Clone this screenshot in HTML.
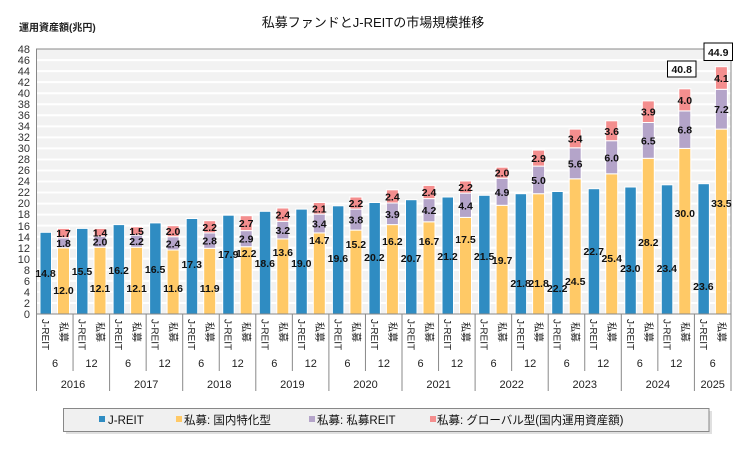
<!DOCTYPE html>
<html><head><meta charset="utf-8"><style>
html,body{margin:0;padding:0;background:#fff;}
svg{display:block;font-family:"Liberation Sans","Noto Sans CJK JP",sans-serif;}
.v{font-size:10.5px;font-weight:bold;fill:#111;text-anchor:middle;}
.t{font-size:11px;fill:#333;text-anchor:end;}
.c{font-size:10px;fill:#222;}
.m{font-size:11px;fill:#222;text-anchor:middle;}
.j{fill:#2f8cc2;stroke:#fff;stroke-width:1}
.d{fill:#ffc966;stroke:#fff;stroke-width:1}
.r{fill:#b4a4c9;stroke:#fff;stroke-width:1}
.g{fill:#f48e8e;stroke:#fff;stroke-width:1}
</style></head><body>
<svg width="748" height="454" viewBox="0 0 748 454">
<text x="373" y="27" font-size="13" text-anchor="middle" fill="#111">私募ファンドとJ-REITの市場規模推移</text>
<text x="19" y="31" font-size="10" font-weight="bold" fill="#222">運用資産額(兆円)</text>
<rect x="36.5" y="49" width="694.5" height="265" fill="#f2f2f2"/>
<g stroke="#fff" stroke-width="2">
<line x1="36.5" x2="731" y1="302.96" y2="302.96"/><line x1="36.5" x2="731" y1="291.92" y2="291.92"/><line x1="36.5" x2="731" y1="280.88" y2="280.88"/><line x1="36.5" x2="731" y1="269.84" y2="269.84"/><line x1="36.5" x2="731" y1="258.8" y2="258.8"/><line x1="36.5" x2="731" y1="247.76" y2="247.76"/><line x1="36.5" x2="731" y1="236.72" y2="236.72"/><line x1="36.5" x2="731" y1="225.68" y2="225.68"/><line x1="36.5" x2="731" y1="214.64" y2="214.64"/><line x1="36.5" x2="731" y1="203.6" y2="203.6"/><line x1="36.5" x2="731" y1="192.56" y2="192.56"/><line x1="36.5" x2="731" y1="181.52" y2="181.52"/><line x1="36.5" x2="731" y1="170.48" y2="170.48"/><line x1="36.5" x2="731" y1="159.44" y2="159.44"/><line x1="36.5" x2="731" y1="148.4" y2="148.4"/><line x1="36.5" x2="731" y1="137.36" y2="137.36"/><line x1="36.5" x2="731" y1="126.32" y2="126.32"/><line x1="36.5" x2="731" y1="115.28" y2="115.28"/><line x1="36.5" x2="731" y1="104.24" y2="104.24"/><line x1="36.5" x2="731" y1="93.2" y2="93.2"/><line x1="36.5" x2="731" y1="82.16" y2="82.16"/><line x1="36.5" x2="731" y1="71.12" y2="71.12"/><line x1="36.5" x2="731" y1="60.08" y2="60.08"/>
</g>
<g>
<text class="t" x="30" y="318">0</text><text class="t" x="30" y="307">2</text><text class="t" x="30" y="296">4</text><text class="t" x="30" y="285">6</text><text class="t" x="30" y="274">8</text><text class="t" x="30" y="263">10</text><text class="t" x="30" y="252">12</text><text class="t" x="30" y="241">14</text><text class="t" x="30" y="230">16</text><text class="t" x="30" y="218">18</text><text class="t" x="30" y="207">20</text><text class="t" x="30" y="196">22</text><text class="t" x="30" y="185">24</text><text class="t" x="30" y="174">26</text><text class="t" x="30" y="163">28</text><text class="t" x="30" y="152">30</text><text class="t" x="30" y="141">32</text><text class="t" x="30" y="130">34</text><text class="t" x="30" y="119">36</text><text class="t" x="30" y="108">38</text><text class="t" x="30" y="97">40</text><text class="t" x="30" y="86">42</text><text class="t" x="30" y="75">44</text><text class="t" x="30" y="64">46</text><text class="t" x="30" y="53">48</text>
</g>
<!-- J-REIT bars -->
<g>
<rect class="j" x="40" y="232.3" width="11.5" height="81.7"/>
<rect class="j" x="76.5" y="228.4" width="11.5" height="85.6"/>
<rect class="j" x="113.1" y="224.6" width="11.5" height="89.4"/>
<rect class="j" x="149.6" y="222.9" width="11.5" height="91.1"/>
<rect class="j" x="186.2" y="218.5" width="11.5" height="95.5"/>
<rect class="j" x="222.7" y="215.2" width="11.5" height="98.8"/>
<rect class="j" x="259.3" y="211.3" width="11.5" height="102.7"/>
<rect class="j" x="295.8" y="209.1" width="11.5" height="104.9"/>
<rect class="j" x="332.4" y="205.8" width="11.5" height="108.2"/>
<rect class="j" x="368.9" y="202.5" width="11.5" height="111.5"/>
<rect class="j" x="405.5" y="199.7" width="11.5" height="114.3"/>
<rect class="j" x="442" y="197" width="11.5" height="117"/>
<rect class="j" x="478.6" y="195.3" width="11.5" height="118.7"/>
<rect class="j" x="515.1" y="193.7" width="11.5" height="120.3"/>
<rect class="j" x="551.7" y="191.5" width="11.5" height="122.5"/>
<rect class="j" x="588.2" y="188.7" width="11.5" height="125.3"/>
<rect class="j" x="624.8" y="187" width="11.5" height="127"/>
<rect class="j" x="661.3" y="184.8" width="11.5" height="129.2"/>
<rect class="j" x="697.9" y="183.7" width="11.5" height="130.3"/>
</g>
<!-- private stacks -->
<g>
<rect class="d" x="57.5" y="247.8" width="12" height="66.2"/><rect class="r" x="57.5" y="237.8" width="12" height="10"/><rect class="g" x="57.5" y="228.4" width="12" height="9.4"/>
<rect class="d" x="94" y="247.2" width="12" height="66.8"/><rect class="r" x="94" y="236.2" width="12" height="11"/><rect class="g" x="94" y="228.4" width="12" height="7.8"/>
<rect class="d" x="130.6" y="247.2" width="12" height="66.8"/><rect class="r" x="130.6" y="235.1" width="12" height="12.1"/><rect class="g" x="130.6" y="226.8" width="12" height="8.3"/>
<rect class="d" x="167.1" y="250" width="12" height="64"/><rect class="r" x="167.1" y="236.7" width="12" height="13.3"/><rect class="g" x="167.1" y="225.7" width="12" height="11"/>
<rect class="d" x="203.7" y="248.3" width="12" height="65.7"/><rect class="r" x="203.7" y="232.9" width="12" height="15.4"/><rect class="g" x="203.7" y="220.7" width="12" height="12.2"/>
<rect class="d" x="240.2" y="246.7" width="12" height="67.3"/><rect class="r" x="240.2" y="230.6" width="12" height="16.1"/><rect class="g" x="240.2" y="215.7" width="12" height="14.9"/>
<rect class="d" x="276.8" y="238.9" width="12" height="75.1"/><rect class="r" x="276.8" y="221.3" width="12" height="17.6"/><rect class="g" x="276.8" y="208" width="12" height="13.3"/>
<rect class="d" x="313.3" y="232.9" width="12" height="81.1"/><rect class="r" x="313.3" y="214.1" width="12" height="18.8"/><rect class="g" x="313.3" y="202.5" width="12" height="11.6"/>
<rect class="d" x="349.9" y="230.1" width="12" height="83.9"/><rect class="r" x="349.9" y="209.1" width="12" height="21"/><rect class="g" x="349.9" y="197" width="12" height="12.1"/>
<rect class="d" x="386.4" y="224.6" width="12" height="89.4"/><rect class="r" x="386.4" y="203" width="12" height="21.6"/><rect class="g" x="386.4" y="189.8" width="12" height="13.2"/>
<rect class="d" x="423" y="221.8" width="12" height="92.2"/><rect class="r" x="423" y="198.6" width="12" height="23.2"/><rect class="g" x="423" y="185.4" width="12" height="13.2"/>
<rect class="d" x="459.5" y="217.4" width="12" height="96.6"/><rect class="r" x="459.5" y="193.1" width="12" height="24.3"/><rect class="g" x="459.5" y="181" width="12" height="12.1"/>
<rect class="d" x="496.1" y="205.3" width="12" height="108.7"/><rect class="r" x="496.1" y="178.2" width="12" height="27.1"/><rect class="g" x="496.1" y="167.2" width="12" height="11"/>
<rect class="d" x="532.6" y="193.7" width="12" height="120.3"/><rect class="r" x="532.6" y="166.1" width="12" height="27.6"/><rect class="g" x="532.6" y="150.1" width="12" height="16"/>
<rect class="d" x="569.2" y="178.8" width="12" height="135.2"/><rect class="r" x="569.2" y="147.8" width="12" height="31"/><rect class="g" x="569.2" y="129.1" width="12" height="18.7"/>
<rect class="d" x="605.7" y="173.8" width="12" height="140.2"/><rect class="r" x="605.7" y="140.7" width="12" height="33.1"/><rect class="g" x="605.7" y="120.8" width="12" height="19.9"/>
<rect class="d" x="642.3" y="158.3" width="12" height="155.7"/><rect class="r" x="642.3" y="122.5" width="12" height="35.8"/><rect class="g" x="642.3" y="100.9" width="12" height="21.6"/>
<rect class="d" x="678.8" y="148.4" width="12" height="165.6"/><rect class="r" x="678.8" y="110.9" width="12" height="37.5"/><rect class="g" x="678.8" y="88.8" width="12" height="22.1"/>
<rect class="d" x="715.4" y="129.1" width="12" height="184.9"/><rect class="r" x="715.4" y="89.3" width="12" height="39.8"/><rect class="g" x="715.4" y="66.7" width="12" height="22.6"/>
</g>
<!-- plot border -->
<rect x="36.5" y="49" width="694.5" height="265" fill="none" stroke="#888" stroke-width="1"/>
<!-- value labels -->
<g>
<text class="v" x="45.5" y="277">14.8</text><text class="v" x="82" y="275">15.5</text><text class="v" x="118.6" y="274">16.2</text><text class="v" x="155.1" y="273">16.5</text><text class="v" x="191.7" y="268">17.3</text><text class="v" x="228.2" y="258">17.9</text><text class="v" x="264.8" y="267">18.6</text><text class="v" x="301.3" y="267">19.0</text><text class="v" x="337.9" y="262">19.6</text><text class="v" x="374.4" y="261">20.2</text><text class="v" x="411" y="262">20.7</text><text class="v" x="447.5" y="260">21.2</text><text class="v" x="484.1" y="260">21.5</text><text class="v" x="520.6" y="287">21.8</text><text class="v" x="557.2" y="292">22.2</text><text class="v" x="593.7" y="255">22.7</text><text class="v" x="630.3" y="272">23.0</text><text class="v" x="666.8" y="272">23.4</text><text class="v" x="703.4" y="290">23.6</text>

<text class="v" x="63.5" y="294">12.0</text><text class="v" x="100" y="292">12.1</text><text class="v" x="136.6" y="292">12.1</text><text class="v" x="173.1" y="292">11.6</text><text class="v" x="209.7" y="292">11.9</text><text class="v" x="246.2" y="257">12.2</text><text class="v" x="282.8" y="256">13.6</text><text class="v" x="319.3" y="244">14.7</text><text class="v" x="355.9" y="248">15.2</text><text class="v" x="392.4" y="245">16.2</text><text class="v" x="429" y="245">16.7</text><text class="v" x="465.5" y="243">17.5</text><text class="v" x="502.1" y="264">19.7</text><text class="v" x="538.6" y="287">21.8</text><text class="v" x="575.2" y="285">24.5</text><text class="v" x="611.7" y="262">25.4</text><text class="v" x="648.3" y="246">28.2</text><text class="v" x="684.8" y="217">30.0</text><text class="v" x="721.4" y="207">33.5</text>

<text class="v" x="63.5" y="246.8">1.8</text><text class="v" x="100" y="245.7">2.0</text><text class="v" x="136.6" y="245.2">2.2</text><text class="v" x="173.1" y="247.4">2.4</text><text class="v" x="209.7" y="244.6">2.8</text><text class="v" x="246.2" y="242.7">2.9</text><text class="v" x="282.8" y="234.1">3.2</text><text class="v" x="319.3" y="227.5">3.4</text><text class="v" x="355.9" y="223.6">3.8</text><text class="v" x="392.4" y="217.8">3.9</text><text class="v" x="429" y="214.2">4.2</text><text class="v" x="465.5" y="209.3">4.4</text><text class="v" x="502.1" y="195.8">4.9</text><text class="v" x="538.6" y="183.9">5.0</text><text class="v" x="575.2" y="167.3">5.6</text><text class="v" x="611.7" y="161.3">6.0</text><text class="v" x="648.3" y="144.4">6.5</text><text class="v" x="684.8" y="133.7">6.8</text><text class="v" x="721.4" y="113.2">7.2</text>

<text class="v" x="63.5" y="237.1">1.7</text><text class="v" x="100" y="236.3">1.4</text><text class="v" x="136.6" y="235">1.5</text><text class="v" x="173.1" y="235.2">2.0</text><text class="v" x="209.7" y="230.8">2.2</text><text class="v" x="246.2" y="227.2">2.7</text><text class="v" x="282.8" y="218.7">2.4</text><text class="v" x="319.3" y="212.3">2.1</text><text class="v" x="355.9" y="207.1">2.2</text><text class="v" x="392.4" y="200.4">2.4</text><text class="v" x="429" y="196">2.4</text><text class="v" x="465.5" y="191.1">2.2</text><text class="v" x="502.1" y="176.7">2.0</text><text class="v" x="538.6" y="162.1">2.9</text><text class="v" x="575.2" y="142.5">3.4</text><text class="v" x="611.7" y="134.8">3.6</text><text class="v" x="648.3" y="115.7">3.9</text><text class="v" x="684.8" y="103.9">4.0</text><text class="v" x="721.4" y="82">4.1</text>
</g>
<rect x="667.5" y="61" width="28.5" height="16" fill="#fff" stroke="#000" stroke-width="1"/>
<text class="v" x="681.7" y="73">40.8</text>
<rect x="704" y="43" width="28.5" height="17.5" fill="#fff" stroke="#000" stroke-width="1"/>
<text class="v" x="718.2" y="56">44.9</text>
<!-- category axis -->
<g stroke="#888" stroke-width="1">
<line x1="36.5" y1="314" x2="36.5" y2="391"/><line x1="731" y1="314" x2="731" y2="391"/>
<line x1="73.05" y1="314" x2="73.05" y2="371"/><line x1="146.15" y1="314" x2="146.15" y2="371"/><line x1="219.25" y1="314" x2="219.25" y2="371"/><line x1="292.35" y1="314" x2="292.35" y2="371"/><line x1="365.45" y1="314" x2="365.45" y2="371"/><line x1="438.55" y1="314" x2="438.55" y2="371"/><line x1="511.65" y1="314" x2="511.65" y2="371"/><line x1="584.75" y1="314" x2="584.75" y2="371"/><line x1="657.85" y1="314" x2="657.85" y2="371"/>
<line x1="109.6" y1="314" x2="109.6" y2="391"/><line x1="182.7" y1="314" x2="182.7" y2="391"/><line x1="255.8" y1="314" x2="255.8" y2="391"/><line x1="328.9" y1="314" x2="328.9" y2="391"/><line x1="402" y1="314" x2="402" y2="391"/><line x1="475.1" y1="314" x2="475.1" y2="391"/><line x1="548.2" y1="314" x2="548.2" y2="391"/><line x1="621.3" y1="314" x2="621.3" y2="391"/><line x1="694.4" y1="314" x2="694.4" y2="391"/>
</g>
<g class="c">
<text transform="translate(42,319) rotate(90)">J-REIT</text><text transform="translate(60,322) rotate(90)">私募</text>
<text transform="translate(78.5,319) rotate(90)">J-REIT</text><text transform="translate(96.5,322) rotate(90)">私募</text>
<text transform="translate(115.1,319) rotate(90)">J-REIT</text><text transform="translate(133.1,322) rotate(90)">私募</text>
<text transform="translate(151.6,319) rotate(90)">J-REIT</text><text transform="translate(169.6,322) rotate(90)">私募</text>
<text transform="translate(188.2,319) rotate(90)">J-REIT</text><text transform="translate(206.2,322) rotate(90)">私募</text>
<text transform="translate(224.7,319) rotate(90)">J-REIT</text><text transform="translate(242.7,322) rotate(90)">私募</text>
<text transform="translate(261.3,319) rotate(90)">J-REIT</text><text transform="translate(279.3,322) rotate(90)">私募</text>
<text transform="translate(297.8,319) rotate(90)">J-REIT</text><text transform="translate(315.8,322) rotate(90)">私募</text>
<text transform="translate(334.4,319) rotate(90)">J-REIT</text><text transform="translate(352.4,322) rotate(90)">私募</text>
<text transform="translate(370.9,319) rotate(90)">J-REIT</text><text transform="translate(388.9,322) rotate(90)">私募</text>
<text transform="translate(407.5,319) rotate(90)">J-REIT</text><text transform="translate(425.5,322) rotate(90)">私募</text>
<text transform="translate(444,319) rotate(90)">J-REIT</text><text transform="translate(462,322) rotate(90)">私募</text>
<text transform="translate(480.6,319) rotate(90)">J-REIT</text><text transform="translate(498.6,322) rotate(90)">私募</text>
<text transform="translate(517.1,319) rotate(90)">J-REIT</text><text transform="translate(535.1,322) rotate(90)">私募</text>
<text transform="translate(553.7,319) rotate(90)">J-REIT</text><text transform="translate(571.7,322) rotate(90)">私募</text>
<text transform="translate(590.2,319) rotate(90)">J-REIT</text><text transform="translate(608.2,322) rotate(90)">私募</text>
<text transform="translate(626.8,319) rotate(90)">J-REIT</text><text transform="translate(644.8,322) rotate(90)">私募</text>
<text transform="translate(663.3,319) rotate(90)">J-REIT</text><text transform="translate(681.3,322) rotate(90)">私募</text>
<text transform="translate(699.9,319) rotate(90)">J-REIT</text><text transform="translate(717.9,322) rotate(90)">私募</text>
</g>
<g class="m">
<text x="55" y="367">6</text><text x="91.5" y="367">12</text><text x="128" y="367">6</text><text x="164.6" y="367">12</text><text x="201.2" y="367">6</text><text x="237.7" y="367">12</text><text x="274.3" y="367">6</text><text x="310.8" y="367">12</text><text x="347.4" y="367">6</text><text x="383.9" y="367">12</text><text x="420.5" y="367">6</text><text x="457" y="367">12</text><text x="493.6" y="367">6</text><text x="530.1" y="367">12</text><text x="566.7" y="367">6</text><text x="603.2" y="367">12</text><text x="639.8" y="367">6</text><text x="676.3" y="367">12</text><text x="712.7" y="367">6</text>
<text x="73" y="388">2016</text><text x="146.2" y="388">2017</text><text x="219.3" y="388">2018</text><text x="292.4" y="388">2019</text><text x="365.5" y="388">2020</text><text x="438.6" y="388">2021</text><text x="511.7" y="388">2022</text><text x="584.8" y="388">2023</text><text x="657.9" y="388">2024</text><text x="712.7" y="388">2025</text>
</g>
<!-- legend -->
<rect x="66" y="411" width="646" height="23" fill="#ccc" opacity="0.6"/>
<rect x="63.5" y="408.5" width="645.5" height="23" fill="#f0f0f0" stroke="#888" stroke-width="1"/>
<g font-size="11.5" fill="#111">
<rect x="99" y="416" width="6" height="6" fill="#2f8cc2"/><text x="108" y="424">J-REIT</text>
<rect x="176" y="416" width="6" height="6" fill="#ffc966"/><text x="184" y="424">私募: 国内特化型</text>
<rect x="309" y="416" width="6" height="6" fill="#b4a4c9"/><text x="317" y="424">私募: 私募REIT</text>
<rect x="430" y="416" width="6" height="6" fill="#f48e8e"/><text x="437" y="424">私募: グローバル型(国内運用資産額)</text>
</g>
</svg>
</body></html>
